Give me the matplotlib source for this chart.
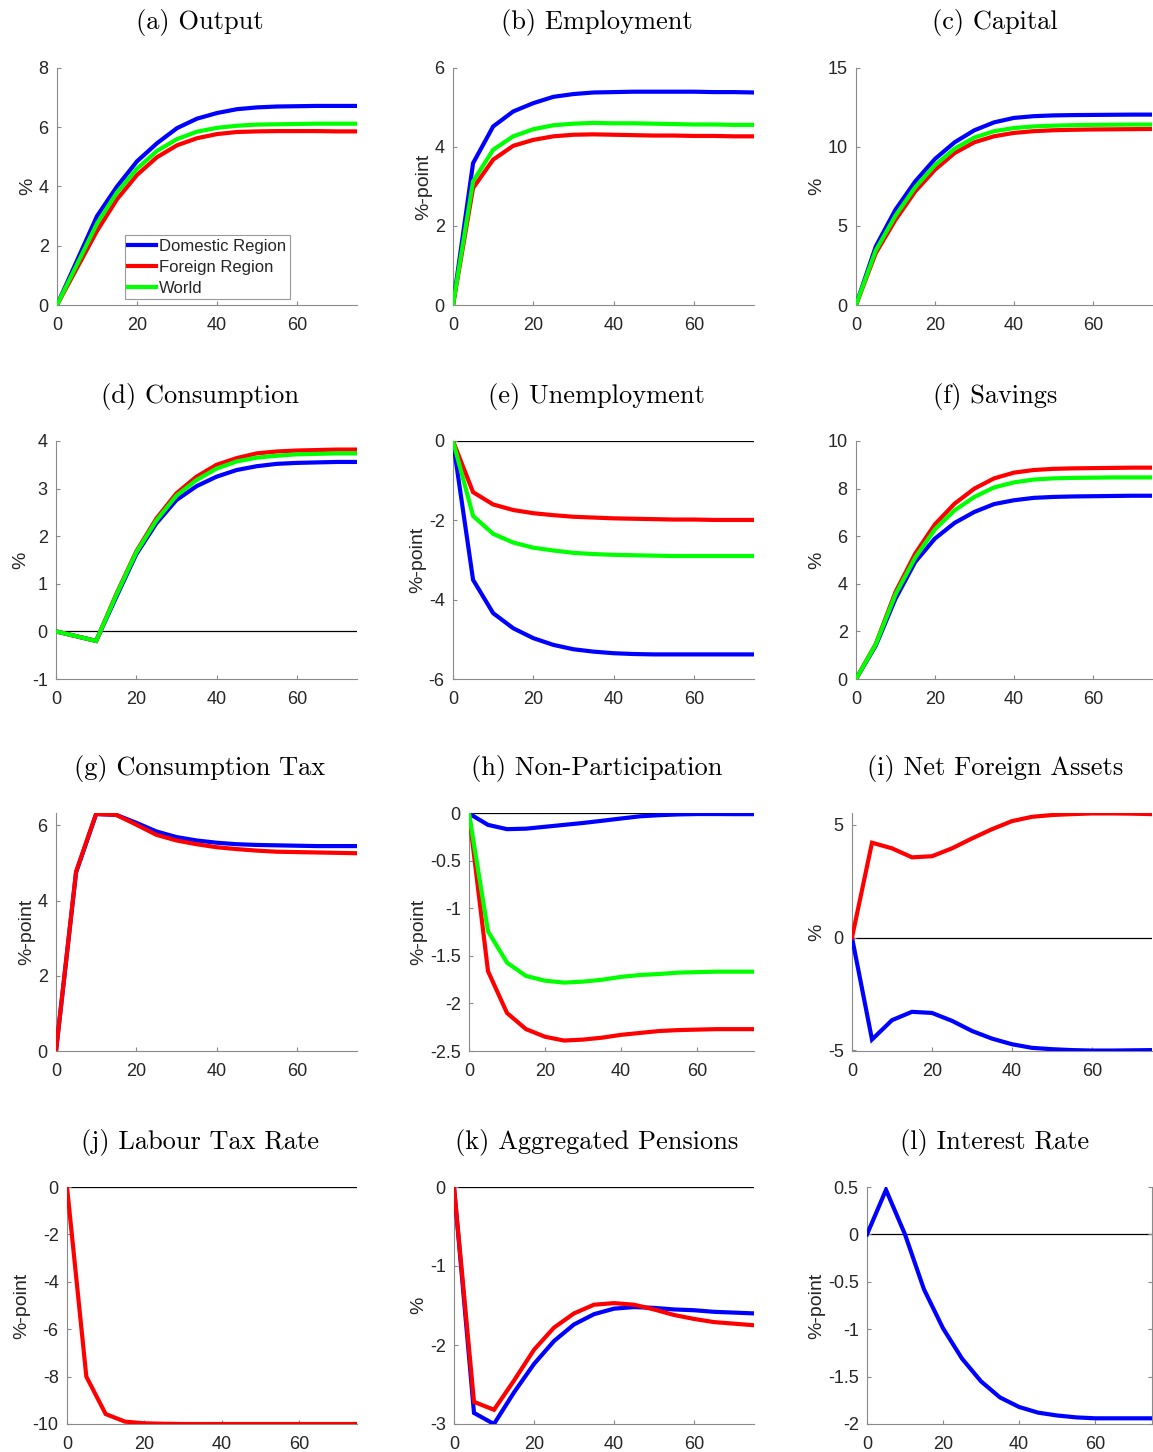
import matplotlib
matplotlib.use('Agg')
import matplotlib.pyplot as plt
from matplotlib.ticker import FuncFormatter, FixedLocator

plt.rcParams['axes.unicode_minus'] = False
plt.rcParams['font.family'] = ['Liberation Sans', 'DejaVu Sans']

# ---------------- data ----------------
periods = [0, 5, 10, 15, 20, 25, 30, 35, 40, 45, 50, 55, 60, 65, 70, 75]
series_names = ['Domestic Region', 'Foreign Region', 'World']

output_dom = [0, 1.5, 3.0, 4.0, 4.85, 5.46, 5.97, 6.29, 6.48, 6.61, 6.67, 6.70, 6.71, 6.72, 6.72, 6.72]
output_for = [0, 1.25, 2.5, 3.57, 4.39, 4.99, 5.39, 5.63, 5.77, 5.84, 5.86, 5.87, 5.87, 5.87, 5.86, 5.86]
output_wld = [0, 1.37, 2.75, 3.8, 4.6, 5.2, 5.6, 5.85, 5.98, 6.05, 6.09, 6.10, 6.11, 6.12, 6.12, 6.12]

employ_dom = [0, 3.59, 4.52, 4.9, 5.11, 5.27, 5.34, 5.38, 5.39, 5.40, 5.40, 5.40, 5.40, 5.39, 5.39, 5.38]
employ_for = [0, 2.96, 3.68, 4.03, 4.18, 4.27, 4.31, 4.32, 4.31, 4.30, 4.29, 4.29, 4.28, 4.28, 4.27, 4.27]
employ_wld = [0, 3.13, 3.93, 4.27, 4.45, 4.55, 4.59, 4.61, 4.60, 4.60, 4.59, 4.58, 4.57, 4.57, 4.56, 4.56]

capital_dom = [0, 3.7, 6.03, 7.82, 9.24, 10.3, 11.06, 11.56, 11.84, 11.95, 12.0, 12.02, 12.03, 12.04, 12.05, 12.05]
capital_for = [0, 3.28, 5.39, 7.19, 8.56, 9.62, 10.3, 10.68, 10.89, 11.0, 11.06, 11.09, 11.11, 11.12, 11.13, 11.14]
capital_wld = [0, 3.45, 5.65, 7.45, 8.85, 9.9, 10.6, 11.0, 11.2, 11.3, 11.35, 11.38, 11.4, 11.41, 11.42, 11.42]

cons_dom = [0, -0.1, -0.2, 0.72, 1.62, 2.27, 2.76, 3.05, 3.25, 3.39, 3.47, 3.52, 3.54, 3.55, 3.56, 3.56]
cons_for = [0, -0.1, -0.2, 0.78, 1.68, 2.37, 2.9, 3.25, 3.5, 3.64, 3.74, 3.78, 3.8, 3.81, 3.82, 3.82]
cons_wld = [0, -0.1, -0.2, 0.76, 1.66, 2.33, 2.85, 3.18, 3.42, 3.57, 3.65, 3.69, 3.72, 3.73, 3.74, 3.74]

unemp_dom = [0, -3.5, -4.34, -4.72, -4.97, -5.14, -5.25, -5.31, -5.35, -5.37, -5.38, -5.38, -5.38, -5.38, -5.38, -5.38]
unemp_for = [0, -1.29, -1.6, -1.74, -1.82, -1.87, -1.91, -1.93, -1.95, -1.96, -1.97, -1.98, -1.98, -1.99, -1.99, -1.99]
unemp_wld = [0, -1.89, -2.34, -2.56, -2.69, -2.76, -2.82, -2.85, -2.87, -2.88, -2.89, -2.9, -2.9, -2.9, -2.9, -2.9]

sav_dom = [0, 1.4, 3.37, 4.92, 5.9, 6.56, 7.02, 7.35, 7.51, 7.61, 7.65, 7.67, 7.68, 7.69, 7.7, 7.7]
sav_for = [0, 1.47, 3.65, 5.27, 6.5, 7.37, 8.0, 8.43, 8.67, 8.78, 8.83, 8.85, 8.86, 8.87, 8.88, 8.88]
sav_wld = [0, 1.45, 3.55, 5.1, 6.29, 7.09, 7.65, 8.05, 8.26, 8.38, 8.43, 8.45, 8.46, 8.47, 8.47, 8.47]

ctax_dom = [0, 4.75, 6.3, 6.28, 6.07, 5.84, 5.69, 5.6, 5.54, 5.5, 5.48, 5.47, 5.46, 5.45, 5.45, 5.45]
ctax_for = [0, 4.77, 6.31, 6.28, 6.02, 5.75, 5.6, 5.5, 5.42, 5.37, 5.33, 5.3, 5.29, 5.28, 5.27, 5.26]

nonpart_dom = [0, -0.12, -0.165, -0.16, -0.14, -0.12, -0.1, -0.077, -0.053, -0.03, -0.018, -0.01, -0.006, -0.006, -0.007, -0.007]
nonpart_for = [0, -1.66, -2.1, -2.27, -2.35, -2.39, -2.38, -2.36, -2.33, -2.31, -2.29, -2.28, -2.275, -2.27, -2.27, -2.27]
nonpart_wld = [0, -1.24, -1.57, -1.71, -1.76, -1.78, -1.77, -1.75, -1.72, -1.7, -1.69, -1.675, -1.67, -1.665, -1.665, -1.665]

nfa_dom = [0, -4.53, -3.67, -3.3, -3.35, -3.7, -4.15, -4.49, -4.74, -4.9, -4.96, -5.0, -5.02, -5.02, -5.01, -5.0]
nfa_for = [0, 4.21, 3.96, 3.56, 3.61, 3.96, 4.4, 4.81, 5.17, 5.36, 5.44, 5.48, 5.51, 5.51, 5.5, 5.48]

ltax_for = [0, -8.0, -9.58, -9.9, -9.97, -9.99, -10.0, -10.0, -10.0, -10.0, -10.0, -10.0, -10.0, -10.0, -10.0, -10.0]

pens_dom = [0, -2.86, -3.0, -2.6, -2.24, -1.95, -1.74, -1.61, -1.54, -1.52, -1.53, -1.55, -1.56, -1.58, -1.59, -1.6]
pens_for = [0, -2.72, -2.82, -2.45, -2.06, -1.78, -1.6, -1.49, -1.47, -1.49, -1.55, -1.62, -1.67, -1.71, -1.73, -1.75]

rate_dom = [0, 0.47, 0.0, -0.58, -0.99, -1.31, -1.55, -1.72, -1.82, -1.88, -1.91, -1.93, -1.94, -1.94, -1.94, -1.94]

titles = ['(a) Output', '(b) Employment', '(c) Capital', '(d) Consumption', '(e) Unemployment',
          '(f) Savings', '(g) Consumption Tax', '(h) Non-Participation', '(i) Net Foreign Assets',
          '(j) Labour Tax Rate', '(k) Aggregated Pensions', '(l) Interest Rate']
ylabels = ['%', '%-point', '%', '%', '%-point', '%', '%-point', '%-point', '%', '%-point', '%', '%-point']
xticks = [0, 20, 40, 60]

panels = [
    dict(series=[output_dom, output_for, output_wld], ylim=(0, 8), yticks=[0, 2, 4, 6, 8], zero=False),
    dict(series=[employ_dom, employ_for, employ_wld], ylim=(0, 6), yticks=[0, 2, 4, 6], zero=False),
    dict(series=[capital_dom, capital_for, capital_wld], ylim=(0, 15), yticks=[0, 5, 10, 15], zero=False),
    dict(series=[cons_dom, cons_for, cons_wld], ylim=(-1, 4), yticks=[-1, 0, 1, 2, 3, 4], zero=True),
    dict(series=[unemp_dom, unemp_for, unemp_wld], ylim=(-6, 0), yticks=[-6, -4, -2, 0], zero=True),
    dict(series=[sav_dom, sav_for, sav_wld], ylim=(0, 10), yticks=[0, 2, 4, 6, 8, 10], zero=False),
    dict(series=[ctax_dom, ctax_for, None], ylim=(0, 6.33), yticks=[0, 2, 4, 6], zero=False),
    dict(series=[nonpart_dom, nonpart_for, nonpart_wld], ylim=(-2.5, 0.005), yticks=[-2.5, -2, -1.5, -1, -0.5, 0], zero=True),
    dict(series=[nfa_dom, nfa_for, None], ylim=(-5.04, 5.53), yticks=[-5, 0, 5], zero=True),
    dict(series=[None, ltax_for, None], ylim=(-10, 0), yticks=[-10, -8, -6, -4, -2, 0], zero=True),
    dict(series=[pens_dom, pens_for, None], ylim=(-3, 0), yticks=[-3, -2, -1, 0], zero=True),
    dict(series=[rate_dom, None, None], ylim=(-2, 0.5), yticks=[-2, -1.5, -1, -0.5, 0, 0.5], zero=True),
]

colors = ['#0000ff', '#ff0000', '#00ff00']

# axes boxes in pixels: left, top, right, bottom
boxes = [
    (57, 68, 357, 305), (453, 68, 754, 305), (856, 68, 1152, 305),
    (56, 441, 357, 679), (453, 441, 754, 679), (856, 441, 1152, 679),
    (56, 813, 357, 1051), (469, 813, 754, 1051), (852, 813, 1152, 1051),
    (67, 1187, 357, 1424), (454, 1187, 754, 1424), (867, 1187, 1152, 1424),
]
title_x = [200, 596.5, 995]

W, H = 1153, 1452
fig = plt.figure(figsize=(W / 100, H / 100), dpi=100)

text_col = '#262626'
axis_col = '#8a8a8a'
fmt = FuncFormatter(lambda v, p: f'{v:g}')

for i, (p, box) in enumerate(zip(panels, boxes)):
    l, t, r, b = box
    ax = fig.add_axes([l / W, 1 - b / H, (r - l) / W, (b - t) / H])
    if p['zero']:
        ax.axhline(0, color='black', lw=0.9, zorder=1)
    for s, c, name in zip(p['series'], colors, series_names):
        if s is not None:
            ax.plot(periods, s, color=c, lw=3.0, label=name, zorder=3, solid_joinstyle='miter')
    ax.set_xlim(0, 75)
    ax.set_ylim(*p['ylim'])
    ax.xaxis.set_major_locator(FixedLocator(xticks))
    ax.yaxis.set_major_locator(FixedLocator(p['yticks']))
    ax.xaxis.set_major_formatter(fmt)
    ax.yaxis.set_major_formatter(fmt)
    ax.spines['top'].set_visible(False)
    ax.spines['right'].set_visible(i == 11)
    for sp in ax.spines.values():
        sp.set_color(axis_col)
        sp.set_linewidth(0.8)
    ax.tick_params(direction='in', length=3, width=0.8, color=axis_col,
                   labelsize=13, labelcolor=text_col, pad=6,
                   right=(i == 11), top=False)
    ax.tick_params(axis='x', pad=8.5)
    ax.set_ylabel(ylabels[i], fontsize=14, color=text_col, labelpad=2)
    fig.text(title_x[i % 3] / W, 1 - (t - 45) / H, titles[i], fontsize=19,
             family='cmr10', ha='center', va='center', color='black')
    if i == 0:
        leg = ax.legend(loc='lower left', bbox_to_anchor=(0.227, 0.025), borderaxespad=0,
                        fontsize=12, frameon=True, fancybox=False, handlelength=1.65,
                        handletextpad=0.2, labelspacing=0.36, borderpad=0.2)
        leg.get_frame().set_edgecolor('#7f7f7f')
        leg.get_frame().set_linewidth(0.8)
        for txt in leg.get_texts():
            txt.set_color(text_col)

fig.savefig('out.png', dpi=100)
